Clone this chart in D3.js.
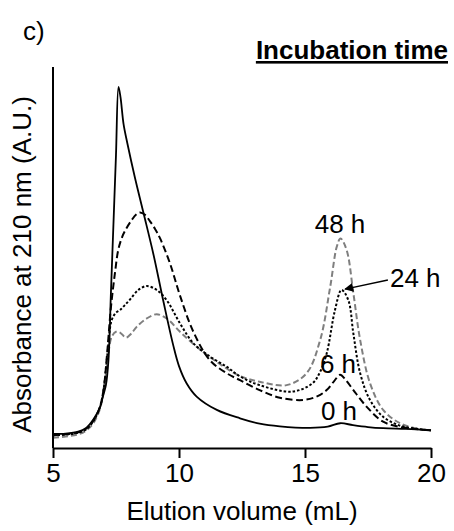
<!DOCTYPE html>
<html>
<head>
<meta charset="utf-8">
<script src="https://cdn.jsdelivr.net/npm/d3@7"></script>
<style>
  body { margin: 0; background: #fff; }
  svg { display: block; font-family: "Liberation Sans", Arial, sans-serif; }
</style>
</head>
<body>
<svg id="chart"></svg>
<script>
// elution volume (mL), absorbance (A.U., arbitrary 0-100)
const h0 = [[5,3.7],[5.5,3.8],[6,4.3],[6.3,5.2],[6.6,7.5],[6.85,10.5],[7.0,14],[7.1,16.5],[7.2,23],[7.3,41],[7.4,59],[7.5,77],[7.6,94.8],[7.68,92],[7.8,85],[7.95,80],[8.25,71],[8.58,62],[8.98,51],[9.38,38.5],[9.77,27],[10.0,21.5],[10.3,17],[10.7,13.5],[11.5,10],[12.42,7.8],[13.2,6.4],[14,5.7],[15.2,5.3],[15.9,5.6],[16.4,6.5],[16.9,6.0],[17.5,5.5],[18.1,5.2],[19,5.0],[20,4.7]];
const h6 = [[5,3.4],[5.5,3.6],[6,4.1],[6.3,5],[6.6,7.2],[6.85,10.5],[7.0,15],[7.15,25],[7.3,37],[7.46,46],[7.59,52],[7.75,55.5],[7.9,57.5],[8.12,59.8],[8.3,61.3],[8.45,61.8],[8.65,61.2],[8.85,59.5],[9.05,57.5],[9.25,55],[9.64,48.5],[10.04,40],[10.57,30.5],[11.23,23],[11.9,19.6],[12.42,17.8],[13.2,15.2],[14,13.2],[14.93,12.6],[15.5,13.6],[15.86,15.2],[16.15,17.5],[16.39,19.2],[16.6,18],[16.92,15.2],[17.45,10.8],[18.1,6.9],[18.8,5.5],[19.5,4.9],[20,4.6]];
const h24 = [[5,3.3],[5.5,3.5],[6,4],[6.3,4.8],[6.6,7],[6.85,10.5],[7.0,15],[7.15,24],[7.33,33.6],[7.5,35.5],[7.66,36.2],[7.85,37.5],[8.06,39],[8.39,41.5],[8.72,42.5],[9.11,41.5],[9.51,38.8],[10.04,32.7],[10.57,27.5],[11.23,24],[11.9,21.3],[12.42,18.8],[13.2,16.5],[14.5,14.8],[15.3,17],[15.6,20],[15.86,24.8],[16.19,36.2],[16.45,41.5],[16.72,38.8],[16.92,30],[17.19,19.6],[17.58,12.6],[18.1,8.2],[18.8,5.8],[19.5,5],[20,4.6]];
const h48 = [[5,2.7],[5.5,3],[6,3.6],[6.3,4.5],[6.6,6.5],[6.85,10],[7.0,14.5],[7.15,22],[7.33,29.2],[7.5,30.5],[7.66,30.3],[7.9,29],[8.1,30],[8.32,31.8],[8.72,34],[9.11,35.1],[9.51,34],[10.04,30.5],[10.7,26.6],[11.5,22.6],[12.42,18.9],[13.2,17.4],[14.27,16.5],[15.06,19.6],[15.6,28.3],[16,42.3],[16.26,52.8],[16.41,55],[16.65,52],[16.92,40.6],[17.19,28.3],[17.58,17],[18.1,10],[18.77,6.5],[19.5,5],[20,4.6]];

const xTicks = [5, 10, 15, 20];
// label text, anchor x (mL), baseline y (A.U.)
const labels = [["48 h", 16.39, 56.3], ["24 h", 18.37, 42.2], ["6 h", 16.31, 19.6], ["0 h", 16.35, 7.35]];
const arrow = [[18.29, 44.1], [16.59, 41.7]];

let width = 454, height = 531;
let svg = d3.select('#chart').attr('width', width).attr('height', height);

let x = d3.scaleLinear().domain([5, 20]).range([53, 431]);
let y = d3.scaleLinear().domain([0, 100]).range([448, 67]);

let line = d3.line()
  .x(d => x(d[0]))
  .y(d => y(d[1]))
  .curve(d3.curveCatmullRom.alpha(0.5));

let series = [
  { data: h48, color: '#7f7f7f', dash: '6,3', w: 2 },
  { data: h24, color: '#000', dash: '2.5,2', w: 2 },
  { data: h6,  color: '#000', dash: '7,3.5', w: 2 },
  { data: h0,  color: '#000', dash: null, w: 1.8 }
];

svg.append('g').selectAll('path')
  .data(series)
  .enter().append('path')
  .attr('d', d => line(d.data))
  .attr('fill', 'none')
  .attr('stroke', d => d.color)
  .attr('stroke-width', d => d.w)
  .attr('stroke-dasharray', d => d.dash);

// axes
let xAxis = svg.append('g')
  .attr('transform', `translate(0,${y(0)})`)
  .call(d3.axisBottom(x).tickValues(xTicks).tickSize(10).tickSizeOuter(0).tickPadding(6));
xAxis.select('.domain').attr('stroke-width', 2);
xAxis.selectAll('.tick line').attr('stroke-width', 2);
xAxis.selectAll('.tick text').attr('font-size', 26).attr('font-family', '"Liberation Sans", Arial, sans-serif');

svg.append('line')
  .attr('x1', x(5)).attr('x2', x(5))
  .attr('y1', y(100)).attr('y2', y(0))
  .attr('stroke', '#000').attr('stroke-width', 2);

// axis titles
svg.append('text')
  .attr('x', (x(5) + x(20)) / 2)
  .attr('y', 520)
  .attr('text-anchor', 'middle')
  .attr('font-size', 26)
  .text('Elution volume (mL)');

svg.append('text')
  .attr('transform', `translate(31,${(y(0) + y(100)) / 2 + 7}) rotate(-90)`)
  .attr('text-anchor', 'middle')
  .attr('font-size', 26)
  .text('Absorbance at 210 nm (A.U.)');

svg.append('text')
  .attr('x', 23).attr('y', 40)
  .attr('font-size', 26)
  .text('c)');

svg.append('text')
  .attr('x', 448).attr('y', 59)
  .attr('text-anchor', 'end')
  .attr('font-size', 26)
  .attr('font-weight', 'bold')
  .attr('text-decoration', 'underline')
  .text('Incubation time');

// curve labels
svg.append('g').selectAll('text')
  .data(labels)
  .enter().append('text')
  .attr('x', d => x(d[1]))
  .attr('y', d => y(d[2]))
  .attr('text-anchor', d => d[0] === '24 h' ? 'start' : 'middle')
  .attr('font-size', 26)
  .text(d => d[0]);

svg.append('defs').append('marker')
  .attr('id', 'head')
  .attr('viewBox', '0 0 10 10')
  .attr('refX', 9).attr('refY', 5)
  .attr('markerWidth', 10).attr('markerHeight', 9)
  .attr('markerUnits', 'userSpaceOnUse')
  .attr('orient', 'auto')
  .append('path').attr('d', 'M0,0L10,5L0,10Z').attr('fill', '#000');

svg.append('line')
  .attr('x1', x(arrow[0][0])).attr('y1', y(arrow[0][1]))
  .attr('x2', x(arrow[1][0])).attr('y2', y(arrow[1][1]))
  .attr('stroke', '#000').attr('stroke-width', 1.5)
  .attr('marker-end', 'url(#head)');
</script>
</body>
</html>
